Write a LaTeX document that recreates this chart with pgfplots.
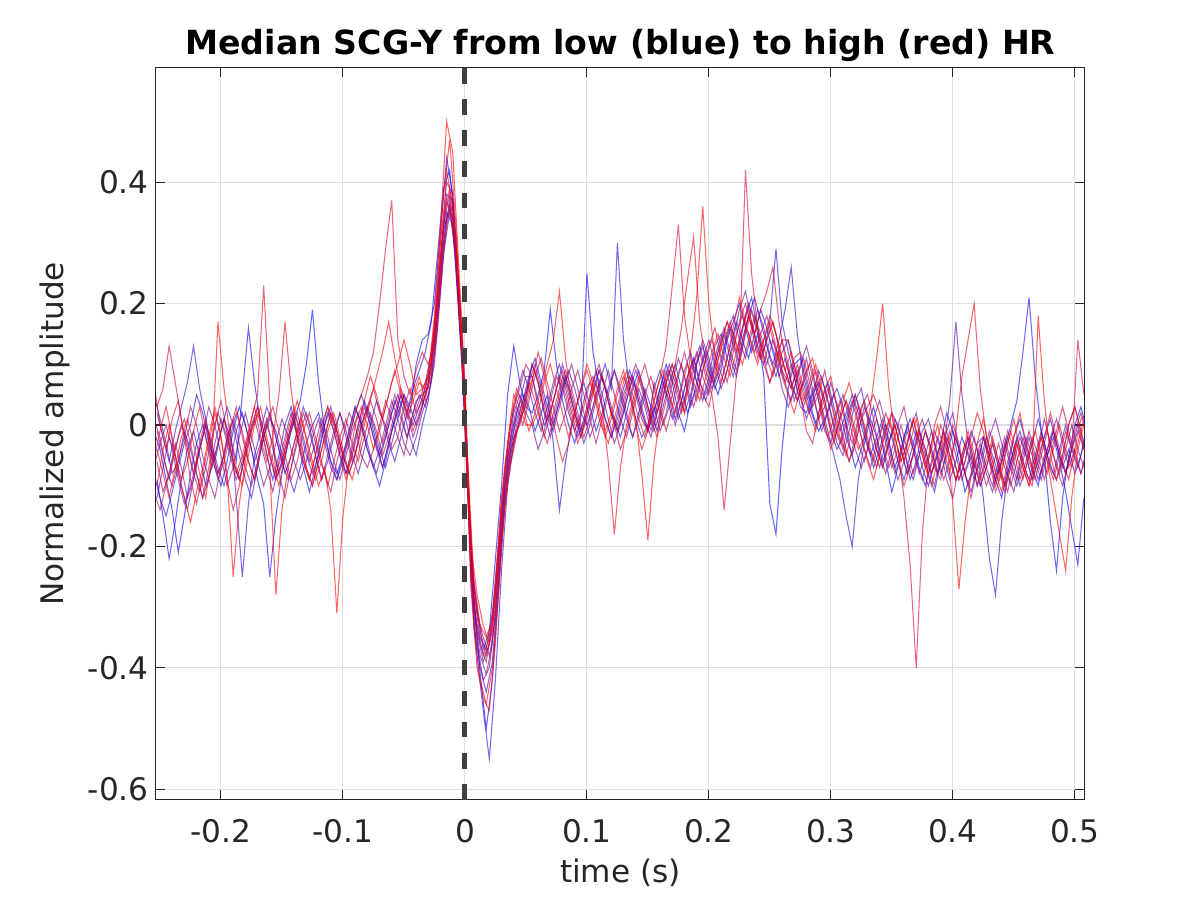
\documentclass[border=0pt]{standalone}
\usepackage{fontspec}
\setmainfont{DejaVu Sans}
\usepackage{pgfplots}
\usepackage{pgfplotstable}
\pgfplotsset{compat=1.18}
\definecolor{axgray}{gray}{0.15}
\definecolor{gridgray}{gray}{0.87}
\definecolor{dashgray}{gray}{0.25}
\definecolor{c1}{rgb}{0,0,1}
\definecolor{c2}{rgb}{0.143,0,0.857}
\definecolor{c3}{rgb}{0.286,0,0.714}
\definecolor{c4}{rgb}{0.429,0,0.571}
\definecolor{c5}{rgb}{0.571,0,0.429}
\definecolor{c6}{rgb}{0.714,0,0.286}
\definecolor{c7}{rgb}{0.857,0,0.143}
\definecolor{c8}{rgb}{1,0,0}
\definecolor{d1}{rgb}{0.05,0,0.95}
\definecolor{d2}{rgb}{0.21,0,0.79}
\definecolor{d3}{rgb}{0.36,0,0.64}
\definecolor{d4}{rgb}{0.5,0,0.5}
\definecolor{d5}{rgb}{0.64,0,0.36}
\definecolor{d6}{rgb}{0.79,0,0.21}
\definecolor{d7}{rgb}{0.93,0,0.07}
\definecolor{d8}{rgb}{1,0,0}
\pgfplotstableread{
x a b c d e f g h
-0.255 -0.01 -0.08 0.05 -0.07 0.01 -0.11 0.07 -0.06
-0.250 -0.04 -0.12 0.01 -0.03 -0.02 -0.14 0.00 -0.01
-0.245 -0.09 -0.15 -0.03 0.00 -0.07 -0.10 -0.04 0.03
-0.240 -0.14 -0.11 -0.08 -0.04 -0.10 -0.06 0.01 -0.02
-0.235 -0.21 -0.07 -0.06 -0.09 -0.06 -0.02 0.04 -0.08
-0.230 -0.15 -0.03 -0.01 -0.13 -0.02 0.01 -0.02 -0.12
-0.225 -0.08 0.00 -0.04 -0.10 0.03 -0.03 -0.09 -0.16
-0.220 -0.03 0.05 -0.08 -0.06 0.00 -0.08 -0.13 -0.11
-0.215 0.00 0.02 -0.12 -0.02 -0.05 -0.12 -0.08 -0.07
-0.210 -0.04 -0.03 -0.09 0.03 -0.09 -0.07 -0.03 -0.02
-0.205 -0.07 -0.06 -0.03 0.00 -0.12 0.00 0.02 0.03
-0.200 -0.10 -0.01 0.01 -0.05 -0.07 0.04 -0.02 -0.02
-0.195 -0.06 0.03 -0.02 -0.10 -0.02 -0.01 -0.09 -0.08
-0.190 -0.01 0.00 -0.06 -0.07 0.01 -0.06 -0.14 -0.25
-0.185 0.03 -0.05 -0.09 -0.02 -0.03 -0.09 -0.10 -0.13
-0.180 0.00 -0.09 -0.05 0.02 -0.07 -0.05 -0.04 -0.06
-0.175 -0.04 -0.12 -0.01 -0.02 -0.10 0.00 0.01 -0.01
-0.170 -0.09 -0.07 0.03 -0.06 -0.06 0.03 0.05 0.02
-0.165 -0.13 -0.02 -0.01 -0.10 -0.01 -0.01 0.23 -0.02
-0.160 -0.25 0.01 -0.05 -0.07 0.02 -0.05 0.04 -0.07
-0.155 -0.15 -0.01 -0.09 -0.03 -0.02 -0.09 -0.08 -0.28
-0.150 -0.08 -0.05 -0.06 0.01 -0.06 -0.06 -0.05 -0.14
-0.145 -0.03 -0.08 -0.02 -0.02 -0.09 -0.02 -0.01 -0.07
-0.140 0.01 -0.11 0.02 -0.06 -0.05 0.01 0.03 -0.03
-0.135 0.04 -0.07 -0.01 -0.09 -0.01 -0.03 -0.02 0.01
-0.130 0.10 -0.03 -0.05 -0.06 0.02 -0.07 -0.07 -0.02
-0.125 0.19 0.00 -0.08 -0.02 -0.01 -0.10 -0.10 -0.06
-0.120 0.07 0.02 -0.05 0.01 -0.05 -0.06 -0.06 -0.10
-0.115 -0.01 -0.02 0.00 -0.03 -0.08 -0.02 -0.02 -0.07
-0.110 -0.06 -0.06 0.03 -0.07 -0.11 0.02 0.02 -0.14
-0.105 -0.08 -0.09 -0.01 -0.09 -0.06 -0.01 -0.01 -0.31
-0.100 -0.05 -0.06 -0.05 -0.05 -0.02 -0.05 -0.05 -0.15
-0.095 -0.01 -0.02 -0.08 -0.01 0.02 -0.08 -0.02 -0.06
-0.090 0.03 0.02 -0.05 0.03 0.00 -0.05 0.02 0.00
-0.085 0.00 0.05 0.00 0.00 -0.05 0.00 0.05 0.03
-0.080 -0.04 0.02 0.03 -0.04 -0.07 0.03 0.08 0.00
-0.075 -0.07 -0.02 0.00 -0.07 -0.04 0.06 0.12 -0.04
-0.070 -0.10 -0.05 -0.04 -0.04 0.00 0.02 0.20 -0.01
-0.065 -0.06 -0.02 -0.07 0.00 0.04 0.00 0.29 0.03
-0.060 -0.01 0.02 -0.03 0.04 0.01 -0.04 0.37 0.07
-0.055 0.02 0.05 0.01 0.01 -0.02 -0.02 0.14 0.10
-0.050 0.05 0.02 0.05 -0.03 -0.05 0.03 0.08 0.14
-0.045 0.02 -0.02 0.03 -0.05 0.00 0.06 0.05 0.10
-0.040 0.10 -0.05 0.00 -0.02 0.04 0.02 0.09 0.05
-0.035 0.14 0.00 0.03 0.02 0.05 0.04 0.12 0.06
-0.030 0.15 0.04 0.07 0.05 0.06 0.09 0.10 0.08
-0.025 0.20 0.12 0.15 0.10 0.14 0.16 0.13 0.18
-0.020 0.32 0.25 0.28 0.22 0.27 0.30 0.24 0.33
-0.015 0.44 0.35 0.38 0.34 0.37 0.40 0.42 0.50
-0.010 0.38 0.33 0.37 0.36 0.34 0.38 0.36 0.45
-0.005 0.22 0.18 0.21 0.20 0.19 0.23 0.22 0.26
0.000 0.05 0.02 0.04 0.03 0.05 0.06 0.03 0.07
0.005 -0.22 -0.26 -0.25 -0.23 -0.22 -0.25 -0.27 -0.20
0.010 -0.30 -0.38 -0.34 -0.36 -0.31 -0.33 -0.40 -0.28
0.015 -0.37 -0.47 -0.39 -0.42 -0.35 -0.38 -0.45 -0.33
0.020 -0.34 -0.55 -0.36 -0.40 -0.38 -0.35 -0.47 -0.36
0.025 -0.22 -0.42 -0.28 -0.31 -0.32 -0.27 -0.36 -0.30
0.030 -0.10 -0.24 -0.16 -0.15 -0.18 -0.12 -0.20 -0.13
0.035 0.05 -0.10 -0.05 -0.06 -0.08 -0.04 -0.09 -0.03
0.040 0.13 -0.03 0.00 0.02 -0.02 0.03 -0.04 0.05
0.045 0.07 0.01 0.04 0.05 0.00 0.06 0.01 0.03
0.050 0.03 0.05 0.08 0.02 0.04 0.10 0.03 0.00
0.055 0.02 0.10 0.08 0.00 0.10 0.08 0.07 0.00
0.060 0.05 0.07 0.04 -0.04 0.07 0.03 0.12 0.02
0.065 0.09 0.02 0.00 -0.01 0.02 -0.02 0.08 0.07
0.070 0.19 -0.02 0.02 0.04 0.00 0.02 0.03 0.10
0.075 0.10 0.02 0.06 0.08 0.04 0.06 -0.02 0.06
0.080 0.04 0.06 0.10 0.06 0.08 0.09 -0.06 0.02
0.085 0.00 0.09 0.06 0.02 0.06 0.05 -0.03 -0.02
0.090 -0.03 0.06 0.02 -0.01 0.02 0.01 0.02 0.02
0.095 0.01 0.02 -0.01 0.02 -0.02 -0.02 0.06 0.06
0.100 0.25 0.00 0.02 0.06 0.01 0.02 0.09 0.10
0.105 0.12 0.03 0.06 0.08 0.05 0.07 0.06 0.07
0.110 0.06 0.07 0.09 0.05 0.09 0.10 0.01 0.03
0.115 0.01 0.10 0.06 0.01 0.06 0.06 -0.02 -0.01
0.120 -0.02 0.06 0.02 -0.02 0.02 0.02 0.01 0.02
0.125 0.02 0.30 -0.01 0.01 -0.01 0.00 0.05 0.06
0.130 0.06 0.14 0.02 0.05 0.03 0.04 0.08 0.09
0.135 0.09 0.06 0.06 0.08 0.07 0.08 0.05 0.05
0.140 0.06 0.01 0.09 0.05 0.10 0.06 0.00 0.01
0.145 0.02 -0.02 0.06 0.01 0.07 0.02 -0.04 -0.08
0.150 -0.01 0.00 0.02 -0.01 0.03 -0.01 -0.01 -0.19
0.155 0.02 0.06 -0.01 0.03 0.00 0.07 0.04 -0.06
0.160 0.06 0.09 0.02 -0.01 0.04 0.03 0.08 0.02
0.165 0.10 0.05 0.07 0.02 0.09 -0.01 0.13 0.07
0.170 0.07 0.01 0.10 0.07 0.05 0.03 0.23 0.10
0.175 0.02 0.04 0.06 0.11 0.01 0.08 0.33 0.06
0.180 -0.01 0.09 0.02 0.08 0.04 0.12 0.18 0.02
0.185 0.04 0.12 0.05 0.03 0.09 0.08 0.11 0.12
0.190 0.10 0.07 0.10 0.06 0.12 0.04 0.07 0.21
0.195 0.13 0.04 0.14 0.11 0.08 0.09 0.05 0.36
0.200 0.09 0.08 0.11 0.14 0.05 0.13 0.03 0.20
0.205 0.06 0.13 0.07 0.10 0.10 0.16 0.08 0.11
0.210 0.09 0.15 0.10 0.06 0.14 0.11 0.13 0.07
0.215 0.14 0.11 0.15 0.09 0.17 0.07 0.17 0.11
0.220 0.17 0.08 0.18 0.14 0.13 0.12 0.15 0.16
0.225 0.20 0.13 0.14 0.19 0.10 0.17 0.12 0.21
0.230 0.16 0.18 0.11 0.22 0.15 0.20 0.42 0.17
0.235 0.12 0.21 0.15 0.17 0.19 0.16 0.25 0.13
0.240 0.15 0.16 0.19 0.12 0.16 0.11 0.16 0.10
0.245 0.08 0.12 0.16 0.10 0.11 0.14 0.10 0.14
0.250 -0.13 0.17 0.11 0.14 0.07 0.18 0.07 0.17
0.255 -0.18 0.29 0.08 0.11 0.10 0.15 0.11 0.13
0.260 -0.04 0.17 0.12 0.06 0.14 0.09 0.14 0.08
0.265 0.06 0.12 0.14 0.03 0.10 0.07 0.14 0.05
0.270 0.10 0.08 0.09 0.06 0.04 0.11 0.10 0.02
0.275 0.11 0.03 0.05 0.10 0.07 0.12 0.05 0.06
0.280 0.07 0.02 0.01 0.13 0.11 0.08 -0.01 0.09
0.285 0.02 0.05 0.04 0.09 0.06 0.03 -0.03 0.11
0.290 -0.01 0.07 0.09 0.04 0.01 0.05 0.02 0.06
0.295 0.01 0.04 0.06 -0.01 0.03 0.09 0.06 0.00
0.300 0.04 -0.01 0.02 -0.03 0.07 0.04 0.08 -0.04
0.305 0.06 -0.04 -0.03 0.02 0.03 -0.01 0.03 -0.01
0.310 0.03 -0.02 -0.05 0.05 -0.03 -0.04 -0.02 0.04
0.315 -0.03 0.02 -0.01 0.01 -0.06 0.01 -0.06 0.07
0.320 -0.07 0.05 0.04 -0.04 -0.02 0.05 -0.03 0.03
0.325 -0.04 0.01 0.06 -0.07 0.03 0.02 0.01 -0.02
0.330 0.00 -0.03 0.01 -0.04 0.05 -0.03 0.03 -0.06
0.335 0.03 -0.07 -0.04 0.01 0.01 -0.06 0.05 -0.09
0.340 -0.01 -0.04 -0.07 0.04 -0.05 -0.02 0.02 -0.05
0.345 -0.06 0.00 -0.03 0.00 -0.08 0.02 -0.03 -0.01
0.350 -0.11 -0.02 0.02 -0.05 -0.04 -0.01 -0.07 0.02
0.355 -0.07 -0.06 0.00 -0.09 0.00 -0.06 -0.04 -0.02
0.360 -0.02 -0.09 -0.04 -0.06 0.03 -0.10 -0.12 -0.06
0.365 0.01 -0.05 -0.09 -0.01 -0.02 -0.07 -0.23 -0.03
0.370 -0.02 -0.01 -0.06 0.02 -0.06 -0.02 -0.40 0.01
0.375 -0.07 -0.04 -0.01 -0.03 -0.09 0.01 -0.18 -0.04
0.380 -0.10 -0.08 0.01 -0.07 -0.05 -0.03 -0.06 -0.08
0.385 -0.06 -0.11 -0.03 -0.10 -0.01 -0.07 0.00 -0.05
0.390 -0.03 -0.06 -0.08 -0.05 -0.04 -0.09 0.03 0.00
0.395 0.02 -0.02 -0.05 -0.01 -0.09 -0.04 -0.01 -0.03
0.400 -0.01 -0.05 -0.01 0.02 -0.12 0.00 -0.05 -0.13
0.405 -0.06 -0.09 -0.04 -0.04 -0.07 -0.03 -0.09 -0.27
0.410 -0.11 -0.06 -0.08 -0.08 -0.03 -0.08 -0.06 -0.16
0.415 -0.08 -0.01 -0.11 -0.05 -0.06 -0.12 -0.02 -0.08
0.420 -0.03 -0.04 -0.07 -0.10 -0.10 -0.07 0.02 -0.03
0.425 -0.02 -0.12 -0.02 -0.07 -0.05 -0.02 -0.01 0.01
0.430 -0.06 -0.22 -0.05 -0.02 -0.01 -0.05 -0.06 -0.04
0.435 -0.09 -0.28 -0.09 0.01 -0.04 -0.10 -0.11 -0.08
0.440 -0.12 -0.16 -0.06 -0.03 -0.08 -0.06 -0.08 -0.11
0.445 -0.07 -0.08 -0.02 -0.08 -0.11 -0.01 -0.03 -0.06
0.450 -0.02 -0.04 -0.06 -0.11 -0.06 -0.04 0.01 -0.02
0.455 0.01 -0.01 -0.10 -0.06 -0.02 -0.09 -0.04 0.02
0.460 -0.03 -0.05 -0.07 -0.02 -0.05 -0.06 -0.08 -0.03
0.465 -0.07 -0.09 -0.03 -0.05 -0.09 -0.02 -0.10 -0.07
0.470 -0.10 -0.06 0.01 -0.09 -0.04 -0.05 -0.05 0.18
0.475 -0.05 -0.02 -0.03 -0.06 0.01 -0.09 -0.02 0.04
0.480 -0.16 0.01 -0.07 -0.02 -0.03 -0.05 0.02 -0.05
0.485 -0.24 -0.03 -0.09 0.01 -0.07 -0.01 -0.02 -0.09
0.490 -0.12 -0.07 -0.05 -0.03 -0.10 0.03 -0.06 -0.05
0.495 -0.05 -0.04 0.00 -0.07 -0.06 -0.01 -0.09 0.00
0.500 0.00 -0.08 0.03 -0.04 -0.01 -0.05 -0.04 0.03
0.505 0.03 -0.05 -0.01 -0.08 0.02 -0.08 0.01 -0.01
0.510 -0.01 0.00 -0.05 -0.04 -0.02 -0.04 0.02 -0.06
}\scga
\pgfplotstableread{
x i j k l m n o p
-0.2525 -0.09 0.02 -0.12 -0.01 -0.06 0.03 -0.10 -0.04
-0.2475 -0.15 -0.02 -0.07 -0.05 -0.11 0.06 -0.04 -0.08
-0.2425 -0.22 -0.06 -0.02 -0.09 -0.08 0.13 0.00 -0.12
-0.2375 -0.16 -0.01 -0.05 -0.04 -0.03 0.07 -0.05 -0.07
-0.2325 -0.09 0.03 -0.10 0.00 -0.07 0.01 -0.09 -0.02
-0.2275 -0.04 0.07 -0.14 -0.03 -0.12 -0.04 -0.06 0.01
-0.2225 -0.01 0.13 -0.09 -0.08 -0.09 -0.08 -0.01 -0.03
-0.2175 -0.05 0.06 -0.04 -0.11 -0.04 -0.03 0.03 -0.08
-0.2125 -0.10 0.01 0.00 -0.07 0.00 0.01 -0.02 -0.12
-0.2075 -0.07 -0.04 -0.03 -0.02 -0.05 -0.04 -0.07 -0.05
-0.2025 -0.03 -0.08 -0.07 0.02 -0.09 -0.08 -0.03 0.17
-0.1975 0.01 -0.05 -0.10 -0.01 -0.06 -0.05 0.01 0.06
-0.1925 -0.02 0.00 -0.06 -0.05 -0.02 -0.01 -0.04 -0.02
-0.1875 -0.06 -0.12 -0.01 -0.09 0.02 0.03 -0.08 -0.07
-0.1825 0.05 -0.25 0.02 -0.06 -0.01 -0.02 -0.05 -0.10
-0.1775 0.16 -0.13 -0.02 -0.02 -0.06 -0.06 -0.01 -0.05
-0.1725 0.07 -0.05 -0.06 0.01 -0.09 -0.09 0.03 0.00
-0.1675 0.00 -0.01 -0.03 -0.03 -0.04 -0.04 -0.02 0.03
-0.1625 -0.05 0.03 0.01 -0.07 0.00 0.00 -0.06 -0.02
-0.1575 -0.09 0.00 -0.04 -0.11 -0.03 0.03 -0.02 -0.06
-0.1525 -0.05 -0.04 -0.08 -0.06 -0.08 -0.01 0.05 -0.10
-0.1475 0.00 -0.08 -0.05 -0.02 -0.12 -0.05 0.17 -0.05
-0.1425 0.03 -0.05 -0.01 0.02 -0.07 -0.09 0.06 0.00
-0.1375 -0.02 -0.01 0.02 -0.02 -0.02 -0.06 -0.02 0.04
-0.1325 -0.07 0.03 -0.02 -0.06 0.02 -0.01 -0.06 0.00
-0.1275 -0.11 0.00 -0.06 -0.09 -0.01 0.02 -0.09 -0.05
-0.1225 -0.07 -0.05 -0.03 -0.05 -0.05 -0.02 -0.05 -0.09
-0.1175 -0.02 -0.09 0.01 -0.01 -0.09 -0.06 0.00 -0.06
-0.1125 0.02 -0.06 -0.02 0.03 -0.05 -0.10 0.03 -0.01
-0.1075 -0.01 -0.02 -0.06 0.00 -0.01 -0.06 -0.01 0.02
-0.1025 -0.05 0.02 -0.09 -0.04 0.02 -0.02 -0.05 -0.02
-0.0975 -0.08 -0.01 -0.05 -0.08 -0.02 0.01 -0.09 -0.06
-0.0925 -0.04 -0.05 -0.01 -0.05 -0.06 -0.03 -0.05 -0.09
-0.0875 0.00 -0.08 0.02 -0.01 -0.03 -0.06 0.00 -0.05
-0.0825 0.04 -0.04 -0.01 0.03 0.01 -0.02 0.04 0.00
-0.0775 0.01 0.00 -0.05 0.00 0.04 0.02 0.08 0.04
-0.0725 -0.03 0.04 -0.08 -0.04 0.01 -0.01 0.05 0.08
-0.0675 -0.07 0.01 -0.04 -0.07 -0.03 -0.05 0.01 0.12
-0.0625 -0.03 -0.03 0.00 -0.03 0.01 -0.02 0.05 0.17
-0.0575 0.01 -0.06 0.04 0.01 0.05 0.02 0.09 0.11
-0.0525 0.05 -0.02 0.01 0.05 0.02 0.06 0.05 0.06
-0.0475 0.02 0.02 -0.02 0.02 -0.02 0.03 0.01 0.02
-0.0425 0.06 0.00 0.02 -0.02 0.01 -0.01 0.04 0.05
-0.0375 0.09 0.03 0.05 0.01 0.04 0.02 0.07 0.08
-0.0325 0.12 0.06 0.03 0.05 0.07 0.05 0.06 0.04
-0.0275 0.17 0.10 0.07 0.09 0.12 0.08 0.11 0.10
-0.0225 0.28 0.20 0.16 0.18 0.21 0.17 0.23 0.21
-0.0175 0.39 0.32 0.28 0.30 0.33 0.29 0.38 0.34
-0.0125 0.42 0.36 0.35 0.37 0.38 0.36 0.47 0.39
-0.0075 0.31 0.27 0.30 0.29 0.30 0.28 0.33 0.31
-0.0025 0.14 0.10 0.13 0.11 0.12 0.12 0.15 0.13
0.0025 -0.08 -0.12 -0.10 -0.09 -0.11 -0.10 -0.12 -0.07
0.0075 -0.29 -0.33 -0.28 -0.31 -0.30 -0.27 -0.34 -0.26
0.0125 -0.41 -0.40 -0.35 -0.38 -0.36 -0.34 -0.42 -0.33
0.0175 -0.50 -0.44 -0.37 -0.41 -0.39 -0.38 -0.46 -0.35
0.0225 -0.42 -0.39 -0.31 -0.36 -0.33 -0.34 -0.40 -0.32
0.0275 -0.27 -0.26 -0.20 -0.24 -0.21 -0.22 -0.28 -0.19
0.0325 -0.12 -0.13 -0.08 -0.11 -0.09 -0.10 -0.14 -0.07
0.0375 -0.04 -0.05 0.00 -0.03 -0.02 -0.04 -0.06 0.01
0.0425 0.02 0.00 0.05 0.01 0.03 -0.01 -0.01 0.06
0.0475 0.05 0.04 0.09 0.04 0.00 0.03 0.02 0.03
0.0525 0.03 0.08 0.06 0.07 0.04 0.07 0.06 -0.01
0.0575 -0.01 0.11 0.02 0.10 0.08 0.04 0.09 0.02
0.0625 0.02 0.07 -0.01 0.06 0.11 0.00 0.05 0.06
0.0675 0.05 0.03 0.03 0.02 0.07 -0.03 0.01 0.10
0.0725 -0.03 0.00 0.07 -0.01 0.03 0.01 0.04 0.14
0.0775 -0.14 0.04 0.10 0.03 -0.01 0.05 0.08 0.22
0.0825 -0.06 0.08 0.06 0.07 0.02 0.09 0.05 0.11
0.0875 0.00 0.05 0.02 0.10 0.06 0.06 0.01 0.04
0.0925 0.04 0.01 -0.02 0.06 0.09 0.02 -0.03 0.00
0.0975 0.07 -0.03 0.01 0.02 0.05 -0.02 0.00 0.03
0.1025 0.03 0.00 0.05 -0.02 0.01 0.01 0.04 0.07
0.1075 -0.01 0.04 0.09 0.01 -0.03 0.05 0.07 0.04
0.1125 0.02 0.08 0.05 0.05 0.01 0.08 0.03 0.00
0.1175 0.06 0.05 0.01 0.09 0.05 0.04 -0.06 -0.03
0.1225 0.09 0.01 -0.03 0.05 0.09 0.00 -0.18 0.01
0.1275 0.05 -0.02 0.00 0.01 0.06 -0.04 -0.07 0.05
0.1325 0.01 0.02 0.04 -0.02 0.02 -0.01 0.00 0.09
0.1375 -0.02 0.06 0.08 0.02 -0.02 0.03 0.04 0.05
0.1425 0.02 0.09 0.05 0.06 0.01 0.07 0.08 0.01
0.1475 0.06 0.05 0.01 0.03 0.05 0.10 0.05 -0.02
0.1525 0.03 0.01 -0.02 -0.01 0.08 0.06 0.01 0.02
0.1575 -0.01 0.04 0.02 0.03 0.04 0.02 -0.02 0.06
0.1625 0.03 0.08 0.06 0.07 0.00 0.05 0.02 0.09
0.1675 0.07 0.05 0.10 0.04 0.03 0.09 0.06 0.05
0.1725 0.10 0.01 0.07 0.00 0.07 0.06 0.10 0.02
0.1775 0.06 0.04 0.03 0.04 0.10 0.02 0.16 0.06
0.1825 0.02 0.08 0.06 0.08 0.06 0.05 0.24 0.10
0.1875 0.05 0.11 0.10 0.11 0.03 0.09 0.31 0.07
0.1925 0.09 0.07 0.13 0.07 0.07 0.12 0.17 0.04
0.1975 0.12 0.04 0.09 0.05 0.11 0.08 0.10 0.08
0.2025 0.08 0.08 0.06 0.09 0.14 0.05 0.07 0.12
0.2075 0.05 0.12 0.09 0.13 0.10 -0.02 0.11 0.15
0.2125 0.09 0.15 0.13 0.16 0.07 -0.14 0.14 0.11
0.2175 0.13 0.11 0.16 0.12 0.11 -0.03 0.17 0.08
0.2225 0.17 0.08 0.12 0.09 0.15 0.08 0.13 0.12
0.2275 0.14 0.13 0.16 0.14 0.18 0.14 0.10 0.16
0.2325 0.11 0.18 0.20 0.18 0.15 0.18 0.14 0.19
0.2375 0.15 0.21 0.17 0.15 0.12 0.15 0.18 0.15
0.2425 0.19 0.17 0.13 0.11 0.15 0.19 0.15 0.11
0.2475 0.16 0.13 0.10 0.14 0.18 0.22 0.11 0.14
0.2525 0.12 0.10 0.14 0.17 0.14 0.26 0.08 0.17
0.2575 0.08 0.14 0.11 0.13 0.10 0.17 0.12 0.13
0.2625 0.11 0.19 0.07 0.09 0.07 0.11 0.09 0.09
0.2675 0.07 0.26 0.04 0.06 0.10 0.07 0.06 0.12
0.2725 0.04 0.15 0.08 0.09 0.06 0.04 0.10 0.08
0.2775 0.07 0.08 0.11 0.05 0.03 0.07 0.06 0.04
0.2825 0.03 0.04 0.07 0.02 0.06 0.10 0.02 0.07
0.2875 0.00 0.07 0.03 0.05 0.09 0.06 -0.01 0.10
0.2925 0.04 0.03 -0.01 0.08 0.05 0.02 0.03 0.06
0.2975 0.07 -0.01 0.02 0.04 0.01 -0.02 0.06 0.02
0.3025 0.03 -0.05 0.05 0.00 -0.03 0.01 0.02 -0.02
0.3075 -0.01 -0.09 0.02 -0.03 0.01 0.04 -0.02 0.01
0.3125 0.02 -0.15 -0.02 0.01 0.04 0.00 -0.05 0.04
0.3175 0.05 -0.20 -0.05 0.04 0.01 -0.03 -0.01 0.00
0.3225 0.02 -0.09 -0.01 0.00 -0.03 0.01 0.03 -0.04
0.3275 -0.02 -0.03 0.03 -0.04 -0.06 0.04 0.00 -0.02
0.3325 -0.05 0.01 0.00 -0.07 -0.02 0.00 -0.04 0.03
0.3375 -0.02 -0.02 -0.04 -0.03 0.01 -0.04 -0.07 0.11
0.3425 0.01 -0.06 -0.07 0.00 -0.03 -0.07 -0.03 0.20
0.3475 -0.03 -0.03 -0.03 -0.04 -0.07 -0.03 0.01 0.06
0.3525 -0.07 0.00 0.01 -0.08 -0.04 0.00 -0.02 -0.02
0.3575 -0.04 -0.04 -0.02 -0.05 0.00 -0.04 -0.06 -0.06
0.3625 0.00 -0.08 -0.06 -0.01 -0.04 -0.08 -0.03 -0.03
0.3675 -0.03 -0.05 -0.09 -0.04 -0.08 -0.05 0.01 0.01
0.3725 -0.07 -0.01 -0.05 -0.08 -0.05 -0.01 -0.03 -0.03
0.3775 -0.10 -0.04 -0.01 -0.05 -0.01 -0.04 -0.07 -0.07
0.3825 -0.06 -0.08 -0.04 -0.01 -0.04 -0.08 -0.04 -0.10
0.3875 -0.02 -0.05 -0.08 -0.05 -0.08 -0.05 0.00 -0.06
0.3925 -0.05 -0.01 -0.04 -0.09 -0.05 -0.01 -0.04 -0.02
0.3975 -0.09 -0.05 0.04 -0.06 -0.01 -0.05 -0.08 -0.06
0.4025 -0.06 -0.09 0.17 -0.02 -0.05 -0.09 -0.01 -0.09
0.4075 -0.02 -0.06 0.05 -0.06 -0.09 -0.06 0.08 -0.05
0.4125 -0.05 -0.02 -0.03 -0.10 -0.06 -0.02 0.14 -0.01
0.4175 -0.09 -0.06 -0.07 -0.07 -0.02 -0.06 0.20 -0.05
0.4225 -0.06 -0.10 -0.04 -0.03 -0.06 -0.10 0.06 -0.09
0.4275 -0.02 -0.07 -0.08 -0.07 -0.10 -0.07 -0.02 -0.06
0.4325 -0.05 -0.03 -0.11 -0.10 -0.07 -0.03 -0.06 -0.02
0.4375 -0.08 -0.07 -0.07 -0.06 -0.03 -0.07 -0.09 -0.06
0.4425 -0.04 -0.10 -0.03 -0.02 -0.07 -0.11 -0.05 -0.10
0.4475 0.00 -0.06 -0.07 -0.06 -0.10 -0.07 -0.01 -0.07
0.4525 0.04 -0.02 -0.10 -0.09 -0.06 -0.03 -0.05 -0.03
0.4575 0.12 -0.06 -0.06 -0.05 -0.02 -0.07 -0.09 -0.07
0.4625 0.21 -0.09 -0.02 -0.01 -0.06 -0.10 -0.05 -0.10
0.4675 0.08 -0.05 -0.06 -0.05 -0.09 -0.06 -0.01 -0.06
0.4725 -0.01 -0.01 -0.09 -0.08 -0.05 -0.02 -0.05 -0.02
0.4775 -0.05 -0.05 -0.05 -0.04 -0.01 -0.06 -0.08 -0.06
0.4825 -0.02 -0.08 -0.01 -0.01 -0.05 -0.09 -0.04 -0.12
0.4875 -0.06 -0.04 -0.05 -0.05 -0.08 -0.05 0.00 -0.18
0.4925 -0.11 0.00 -0.08 -0.08 -0.04 -0.01 -0.04 -0.24
0.4975 -0.17 -0.04 -0.04 -0.04 0.00 -0.04 -0.07 -0.12
0.5025 -0.23 -0.07 0.00 -0.01 -0.04 0.14 -0.03 -0.04
0.5075 -0.12 -0.03 -0.04 -0.04 -0.07 0.05 0.01 0.00
}\scgb
\begin{document}
\begin{tikzpicture}
\path[use as bounding box] (-2.641cm,-1.693cm) rectangle (17.679cm,13.541cm);
\begin{axis}[
  at={(0,0)}, anchor=south west,
  scale only axis, width=15.73cm, height=12.39cm,
  xmin=-0.2533, xmax=0.5083, ymin=-0.617, ymax=0.588,
  xtick={-0.2,-0.1,0,0.1,0.2,0.3,0.4,0.5},
  ytick={-0.6,-0.4,-0.2,0,0.2,0.4},
  xtick pos=both, ytick pos=both, tick align=inside,
  major tick length=0.16cm,
  grid=major, major grid style={gridgray, line width=0.5pt},
  axis line style={axgray, line width=0.5pt},
  tick style={axgray, line width=0.5pt},
  /pgf/number format/assume math mode=true,
  ticklabel style={font=\fontsize{15}{18}\selectfont, text=axgray},
  xticklabel style={anchor=center, yshift=-15pt},
  xlabel={time (s)}, ylabel={Normalized amplitude},
  label style={font=\fontsize{15}{18}\selectfont, text=axgray},
  xlabel style={at={(axis description cs:0.5,0)}, anchor=center, yshift=-35pt},
  ylabel style={at={(axis description cs:0,0.5)}, anchor=center, rotate=0, yshift=48.5pt},
  title={Median SCG-Y from low (blue) to high (red) HR},
  title style={font=\bfseries\fontsize{16}{19}\selectfont, at={(axis description cs:0.5,1)}, anchor=center, yshift=5pt},
  every axis plot/.append style={line width=0.5pt, opacity=0.6},
]
\addplot[c1] table[x=x,y=a] {\scga};
\addplot[d1] table[x=x,y=i] {\scgb};
\addplot[c2] table[x=x,y=b] {\scga};
\addplot[d2] table[x=x,y=j] {\scgb};
\addplot[c3] table[x=x,y=c] {\scga};
\addplot[d3] table[x=x,y=k] {\scgb};
\addplot[c4] table[x=x,y=d] {\scga};
\addplot[d4] table[x=x,y=l] {\scgb};
\addplot[c5] table[x=x,y=e] {\scga};
\addplot[d5] table[x=x,y=m] {\scgb};
\addplot[c6] table[x=x,y=f] {\scga};
\addplot[d6] table[x=x,y=n] {\scgb};
\addplot[c7] table[x=x,y=g] {\scga};
\addplot[d7] table[x=x,y=o] {\scgb};
\addplot[c8] table[x=x,y=h] {\scga};
\addplot[d8] table[x=x,y=p] {\scgb};
\addplot[dashgray, line width=2.4pt, opacity=1, dash pattern=on 7.5pt off 7.5pt] coordinates {(0,-0.617) (0,0.588)};
\end{axis}
\end{tikzpicture}
\end{document}
